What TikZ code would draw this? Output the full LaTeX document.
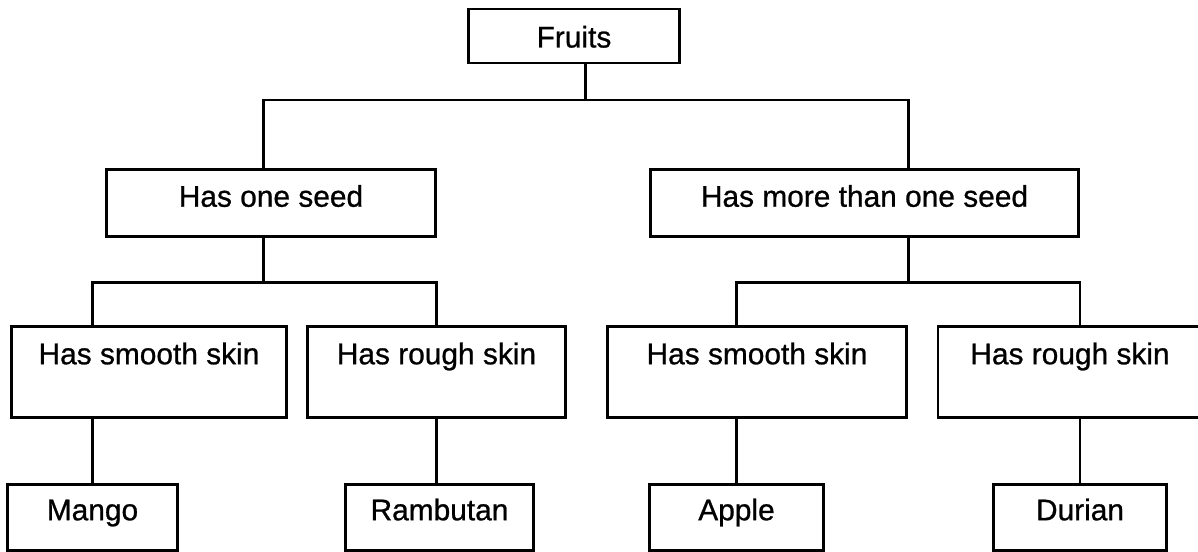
\documentclass[tikz,border=0pt]{standalone}
\usepackage{fontspec}
\setmainfont{Liberation Sans}[BoldFont={Liberation Sans},BoldFeatures={FakeBold=0.8}]
\tikzset{
  treebox/.style={draw=black,line width=1.5pt,inner xsep=0pt,inner ysep=0pt,font=\fontsize{17}{20}\selectfont\bfseries,text=black,text height=0.75cm},
  rootbox/.style={treebox,text height=0.77cm,text depth=0.31cm},
  seedbox/.style={treebox,text depth=0.6cm},
  skinbox/.style={treebox,text depth=1.06cm},
  fruitbox/.style={treebox,text height=0.71cm,text depth=0.6cm},
  line/.style={draw=black,line width=1.3pt}
}

\begin{document}
\begin{tikzpicture}
  \useasboundingbox (0,0) rectangle (23.96,-11.04);
  \clip (0,0) rectangle (23.96,-11.04);
  \node[rootbox,minimum width=4.22cm] (fruits) at (11.48,-0.72) {Fruits};
  \node[seedbox,minimum width=6.57cm] (oneseed) at (5.42,-4.06) {Has one seed};
  \node[seedbox,minimum width=8.55cm] (moreseed) at (17.29,-4.06) {Has more than one seed};
  \node[skinbox,minimum width=5.51cm] (smoothA) at (2.98,-7.44) {Has smooth skin};
  \node[skinbox,minimum width=5.16cm] (roughA) at (8.73,-7.44) {Has rough skin};
  \node[skinbox,minimum width=5.99cm] (smoothB) at (15.14,-7.44) {Has smooth skin};
  \node[skinbox,minimum width=5.28cm] (roughB) at (21.40,-7.44) {Has rough skin};
  \node[fruitbox,minimum width=3.41cm] (mango) at (1.85,-10.35) {Mango};
  \node[fruitbox,minimum width=3.75cm] (rambutan) at (8.79,-10.35) {Rambutan};
  \node[fruitbox,minimum width=3.47cm] (apple) at (14.73,-10.35) {Apple};
  \node[fruitbox,minimum width=3.46cm] (durian) at (21.60,-10.35) {Durian};
  \coordinate (jtop) at (11.71,-2.0);
  \coordinate (jleft) at (5.27,-5.65);
  \coordinate (jright) at (18.17,-5.65);
  \draw[line] (fruits.south -| jtop) -- (jtop);
  \draw[line] (oneseed.north -| jleft) |- (jtop) -| (moreseed.north -| jright);
  \draw[line] (oneseed.south -| jleft) -- (jleft);
  \draw[line] (moreseed.south -| jright) -- (jright);
  \draw[line] (smoothA.north -| mango.north) |- (jleft) -| (roughA.north);
  \draw[line] (smoothB.north -| apple.north) |- (jright) -| (roughB.north -| durian.north);
  \draw[line] (smoothA.south -| mango.north) -- (mango.north);
  \draw[line] (roughA.south) -- (roughA.south |- rambutan.north);
  \draw[line] (smoothB.south -| apple.north) -- (apple.north);
  \draw[line] (roughB.south -| durian.north) -- (durian.north);
\end{tikzpicture}
\end{document}
